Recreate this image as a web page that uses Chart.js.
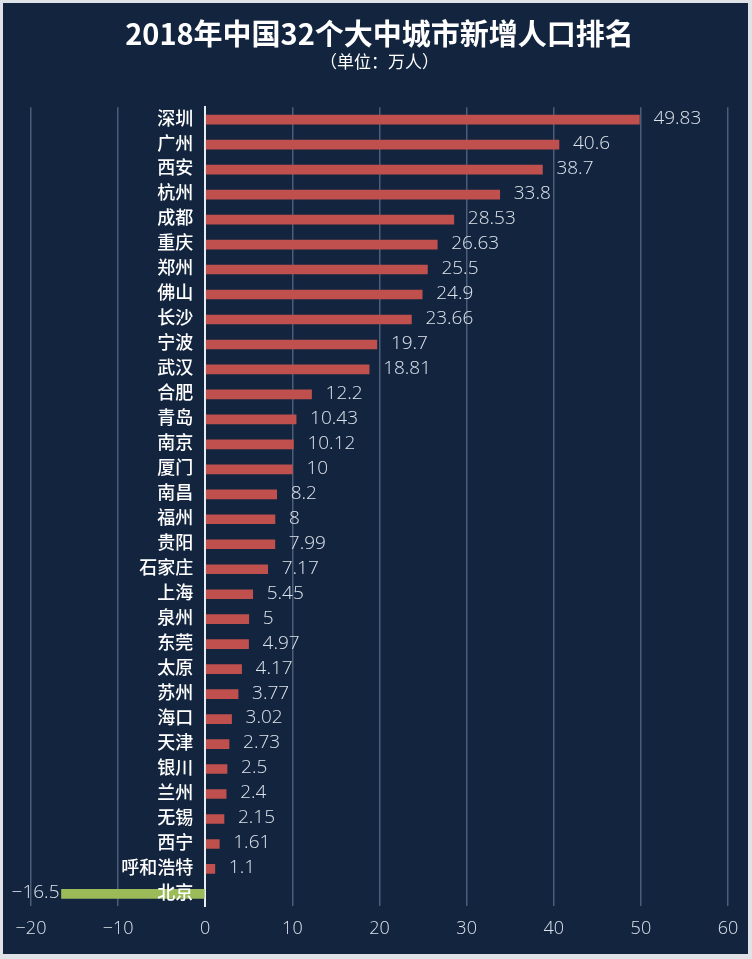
<!DOCTYPE html>
<html>
<head>
<meta charset="utf-8">
<script src="https://cdn.jsdelivr.net/npm/chart.js@4/dist/chart.umd.min.js"></script>
<style>
  body { margin: 0; background: #dfe3e8; }
  #panel { position: absolute; left: 3px; top: 3px; width: 745px; height: 951px; background: #13243e; }
  #chart { position: absolute; left: 0; top: 0; }
</style>
</head>
<body>
<div id="panel"></div>
<canvas id="chart" width="752" height="959"></canvas>
<script>
const cities = ['深圳', '广州', '西安', '杭州', '成都', '重庆', '郑州', '佛山', '长沙', '宁波', '武汉', '合肥',
    '青岛', '南京', '厦门', '南昌', '福州', '贵阳', '石家庄', '上海', '泉州', '东莞', '太原', '苏州',
    '海口', '天津', '银川', '兰州', '无锡', '西宁', '呼和浩特', '北京']
const newPeople = [49.83, 40.6, 38.7, 33.8, 28.53, 26.63, 25.5, 24.9, 23.66, 19.7, 18.81, 12.2,
    10.43, 10.12, 10, 8.2, 8, 7.99, 7.17, 5.45, 5, 4.97, 4.17, 3.77,
    3.02, 2.73, 2.5, 2.4, 2.15, 1.61, 1.1, -16.5]
const xTicks = [-20, -10, 0, 10, 20, 30, 40, 50, 60]

const minus = (v) => String(v).replace('-', '\u2212')

// city names left of the zero line + value text at the end of each bar
// (chart.js ignores tick padding when the y axis sits at x=0, so draw them here)
const barLabels = {
    id: 'barLabels',
    afterDraw(chart) {
        const ctx = chart.ctx
        const meta = chart.getDatasetMeta(0)
        const yScale = chart.scales.y
        const zeroX = chart.scales.x.getPixelForValue(0)
        ctx.save()
        ctx.textBaseline = 'middle'

        ctx.font = '500 18px "Noto Sans CJK SC", sans-serif'
        ctx.fillStyle = '#ffffff'
        ctx.textAlign = 'right'
        cities.forEach((name, i) => {
            ctx.fillText(name, zeroX - 12, yScale.getPixelForTick(i) - 2)
        })

        ctx.font = '300 19px "Open Sans", "Liberation Sans", sans-serif'
        ctx.fillStyle = '#dde3eb'
        meta.data.forEach((bar, i) => {
            const v = newPeople[i]
            if (v < 0) {
                ctx.textAlign = 'right'
                ctx.fillText(minus(v), bar.x - 2, bar.y - 1)
            } else {
                ctx.textAlign = 'left'
                ctx.fillText(minus(v), bar.x + 14, bar.y - 1)
            }
        })
        ctx.restore()
    }
}

new Chart(document.getElementById('chart'), {
    type: 'bar',
    data: {
        labels: cities,
        datasets: [{
            data: newPeople,
            backgroundColor: newPeople.map(v => v < 0 ? '#9bbb59' : '#c0504d'),
            barThickness: 9,
            borderWidth: 0
        }]
    },
    options: {
        indexAxis: 'y',
        responsive: false,
        animation: false,
        layout: { padding: { left: 31, right: 24, top: 0, bottom: 7 } },
        plugins: {
            legend: { display: false },
            tooltip: { enabled: false },
            title: {
                display: true,
                text: '2018年中国32个大中城市新增人口排名',
                color: '#ffffff',
                font: { family: '"Noto Sans CJK SC", sans-serif', size: 29, weight: 'bold' },
                padding: { top: 17, bottom: 0 }
            },
            subtitle: {
                display: true,
                text: '（单位：万人）',
                color: '#ffffff',
                font: { family: '"Noto Sans CJK SC", sans-serif', size: 17 },
                padding: { top: 0, bottom: 35 }
            }
        },
        scales: {
            x: {
                min: -20,
                max: 60,
                afterBuildTicks: (axis) => { axis.ticks = xTicks.map(v => ({ value: v })) },
                grid: {
                    color: (c) => c.tick && c.tick.value === 0 ? '#e8edf3' : '#4b5d78',
                    lineWidth: (c) => c.tick && c.tick.value === 0 ? 2 : 1.5,
                    drawTicks: false
                },
                border: { display: false },
                ticks: {
                    color: '#dde3eb',
                    padding: 12,
                    font: { family: '"Open Sans", "Liberation Sans", sans-serif', size: 18, weight: '300' },
                    callback: (v) => minus(v)
                }
            },
            y: {
                position: { x: 0 },
                z: 1,
                grid: { display: false },
                border: { color: '#e8edf3', width: 2 },
                ticks: { display: false }
            }
        }
    },
    plugins: [barLabels]
})
</script>
</body>
</html>
